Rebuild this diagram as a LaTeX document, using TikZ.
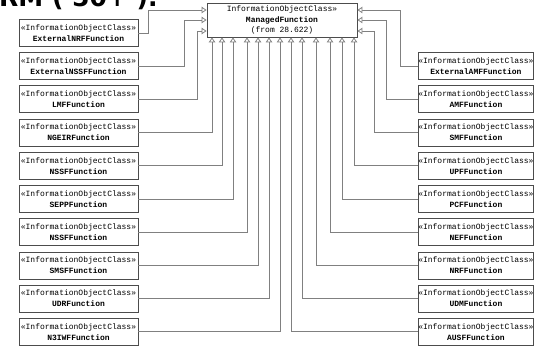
\documentclass[tikz,border=0pt]{standalone}
\usepackage{fontspec}
\setmonofont{Liberation Mono}
\newfontfamily\titlefont{DejaVu Sans}
\usetikzlibrary{arrows.meta}
\begin{document}
\begin{tikzpicture}[x=1pt,y=-1pt,
  cls/.style={draw=black!70, line width=0.8pt, fill=white, minimum width=119pt, minimum height=27pt, inner sep=0pt, align=center, font=\ttfamily\fontsize{8}{11}\selectfont},
  conn/.style={draw=black!50, line width=0.8pt, -{Triangle[open, length=5pt, width=6.5pt, fill=white]}},
  ttl/.style={anchor=base west, inner sep=0pt, font=\titlefont\bfseries\fontsize{25}{25}\selectfont}
]
\useasboundingbox (0,0) rectangle (534,347);
\clip (0,0) rectangle (534,347);
\node[ttl] (title) at (-1,6.5) {RM ( 50+ ).};

\node[cls, minimum width=150pt, minimum height=34pt] (mf) at (282,20) {InformationObjectClass»\\[-0.5pt]\textbf{ManagedFunction}\\[-0.5pt](from 28.622)};

% left boxes
\foreach \n/\t [count=\i from 0] in {L0/ExternalNRFFunction, L1/ExternalNSSFFunction, L2/LMFFunction, L3/NGEIRFunction, L4/NSSFFunction, L5/SEPPFunction, L6/NSSFFunction, L7/SMSFFunction, L8/UDRFunction, L9/N3IWFFunction}
  \node[cls] (\n) at (78.5, 33+33.2*\i) {«InformationObjectClass»\\\textbf{\t}};
% right boxes
\foreach \n/\t [count=\i from 0] in {R0/ExternalAMFFunction, R1/AMFFunction, R2/SMFFunction, R3/UPFFunction, R4/PCFFunction, R5/NEFFunction, R6/NRFFunction, R7/UDMFunction, R8/AUSFFunction}
  \node[cls, minimum width=115.5pt] (\n) at (475.9, 66.2+33.2*\i) {«InformationObjectClass»\\\textbf{\t}};

% helper levels
\coordinate (ya) at (0,10);
\coordinate (yb) at (0,20);
\coordinate (yc) at (0,31);

% side connections
\draw[conn] (L0.east) -- ++(10,0) |- (mf.west |- ya);
\draw[conn] (L1.east) -- ++(46,0) |- (mf.west |- yb);
\draw[conn] (L2.east) -- ++(59,0) |- (mf.west |- yc);
\draw[conn] (R0.west) -- ++(-17,0) |- (mf.east |- ya);
\draw[conn] (R1.west) -- ++(-31,0) |- (mf.east |- yb);
\draw[conn] (R2.west) -- ++(-43,0) |- (mf.east |- yc);

% bottom connections
\foreach \n/\x in {L3/212, L4/222, L5/233, L6/247, L7/258, L8/269, L9/280, R8/291, R7/302, R6/316, R5/330, R4/342, R3/354}{
  \coordinate (b\n) at (\x,0);
  \draw[conn] (\n) -| (mf.south -| b\n);
}
\end{tikzpicture}
\end{document}
